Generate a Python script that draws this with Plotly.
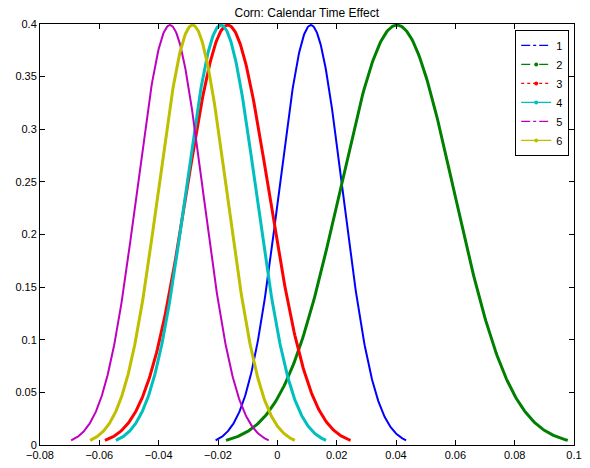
import numpy as np
import plotly.graph_objects as go

# Series: each curve is a normal density (mean, std)
series_names = ["1", "2", "3", "4", "5", "6"]
series_means = [0.0113, 0.0403, -0.0167, -0.0190, -0.0362, -0.0286]
series_stds = [0.0107, 0.0192, 0.0138, 0.0118, 0.0111, 0.0115]
series_colors = ["#0000FF", "#008000", "#FF0000", "#00BFBF", "#BF00BF", "#BFBF00"]
series_widths = [2, 3, 3, 3, 2, 3]
legend_dash = ["dashdot", "dash", "dot", "solid", "dashdot", "solid"]
legend_markers = [False, True, True, True, False, True]

x_ticks = [-0.08, -0.06, -0.04, -0.02, 0, 0.02, 0.04, 0.06, 0.08, 0.1]
x_ticktext = ["\u22120.08", "\u22120.06", "\u22120.04", "\u22120.02", "0", "0.02", "0.04", "0.06", "0.08", "0.1"]
y_ticks = [0, 0.05, 0.1, 0.15, 0.2, 0.25, 0.3, 0.35, 0.4]
y_ticktext = ["0", "0.05", "0.1", "0.15", "0.2", "0.25", "0.3", "0.35", "0.4"]

z = np.linspace(-3, 3, 301)
dens = np.exp(-z ** 2 / 2) / np.sqrt(2 * np.pi)

fig = go.Figure()
for name, mu, sd, col, w in zip(series_names, series_means, series_stds, series_colors, series_widths):
    fig.add_trace(go.Scatter(x=mu + sd * z, y=dens, mode="lines",
                             line=dict(color=col, width=w),
                             showlegend=False, legendgroup=name, hoverinfo="skip"))
for name, col, dash, mk in zip(series_names, series_colors, legend_dash, legend_markers):
    fig.add_trace(go.Scatter(x=[None], y=[None], name=name,
                             mode="lines+markers" if mk else "lines",
                             line=dict(color=col, width=1.2, dash=dash),
                             marker=dict(color=col, size=4),
                             legendgroup=name))

axis_common = dict(showline=True, linecolor="black", linewidth=1, mirror="ticks",
                   ticks="inside", ticklen=5, tickcolor="black", showgrid=False,
                   zeroline=False, automargin=False,
                   tickfont=dict(family="Liberation Sans, Arial", size=11, color="black"))
fig.update_xaxes(range=[-0.08, 0.1], tickvals=x_ticks, ticktext=x_ticktext, **axis_common)
fig.update_yaxes(range=[0, 0.4], tickvals=y_ticks, ticktext=y_ticktext, **axis_common)

fig.update_layout(
    width=590, height=468,
    margin=dict(l=40, r=16, t=24, b=23, autoexpand=False),
    plot_bgcolor="white", paper_bgcolor="white",
    title=dict(text="Corn: Calendar Time Effect", x=0.52, xanchor="center", y=0.973, yanchor="middle",
               font=dict(family="Liberation Sans, Arial", size=12, color="black")),
    legend=dict(x=0.991, y=0.986, xanchor="right", yanchor="top",
                bordercolor="black", borderwidth=1, bgcolor="white",
                font=dict(family="Liberation Sans, Arial", size=11, color="black"),
                itemwidth=30, tracegroupgap=0),
    showlegend=True,
)

fig.write_html("out.html", config={"displayModeBar": False},
               post_script="document.body.style.margin='0';")
